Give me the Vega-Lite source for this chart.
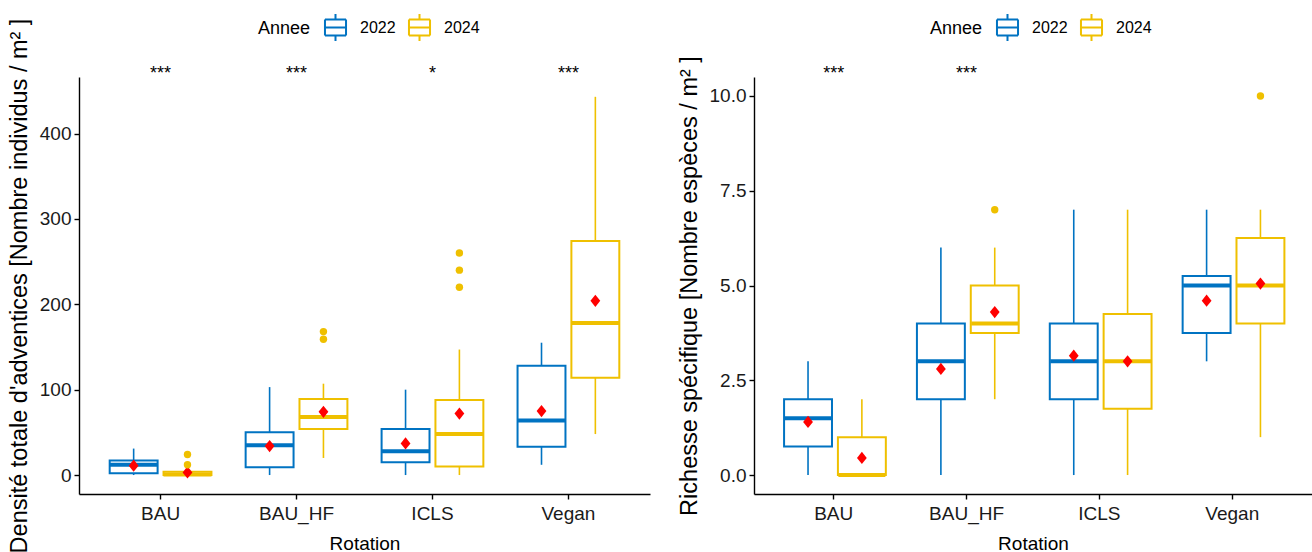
{
  "$schema": "https://vega.github.io/schema/vega-lite/v6.json",
  "padding": {"left": 7, "top": 13, "right": 0, "bottom": 0},
  "spacing": 27,
  "datasets": {
    "dens": [
      {"Rotation": "BAU", "Annee": "2022", "lower": 0, "q1": 2, "median": 12, "q3": 17, "upper": 31, "mean": 11},
      {"Rotation": "BAU", "Annee": "2024", "lower": 0, "q1": 0, "median": 0.5, "q3": 4, "upper": 9, "mean": 3},
      {"Rotation": "BAU_HF", "Annee": "2022", "lower": 0, "q1": 9, "median": 35, "q3": 50, "upper": 103, "mean": 34},
      {"Rotation": "BAU_HF", "Annee": "2024", "lower": 20, "q1": 54, "median": 68, "q3": 89, "upper": 107, "mean": 74},
      {"Rotation": "ICLS", "Annee": "2022", "lower": 0, "q1": 15, "median": 28, "q3": 54, "upper": 100, "mean": 37},
      {"Rotation": "ICLS", "Annee": "2024", "lower": 0, "q1": 10, "median": 48, "q3": 88, "upper": 147, "mean": 72},
      {"Rotation": "Vegan", "Annee": "2022", "lower": 12, "q1": 33, "median": 64, "q3": 128, "upper": 155, "mean": 75},
      {"Rotation": "Vegan", "Annee": "2024", "lower": 48, "q1": 114, "median": 178, "q3": 274, "upper": 443, "mean": 204}
    ],
    "dens_out": [
      {"Rotation": "BAU", "Annee": "2024", "value": 12},
      {"Rotation": "BAU", "Annee": "2024", "value": 24},
      {"Rotation": "BAU_HF", "Annee": "2024", "value": 159},
      {"Rotation": "BAU_HF", "Annee": "2024", "value": 168},
      {"Rotation": "ICLS", "Annee": "2024", "value": 220},
      {"Rotation": "ICLS", "Annee": "2024", "value": 240},
      {"Rotation": "ICLS", "Annee": "2024", "value": 260}
    ],
    "dens_sig": [
      {"Rotation": "BAU", "label": "***"},
      {"Rotation": "BAU_HF", "label": "***"},
      {"Rotation": "ICLS", "label": "*"},
      {"Rotation": "Vegan", "label": "***"}
    ],
    "rich": [
      {"Rotation": "BAU", "Annee": "2022", "lower": 0, "q1": 0.75, "median": 1.5, "q3": 2, "upper": 3, "mean": 1.4},
      {"Rotation": "BAU", "Annee": "2024", "lower": 0, "q1": 0, "median": 0, "q3": 1, "upper": 2, "mean": 0.45},
      {"Rotation": "BAU_HF", "Annee": "2022", "lower": 0, "q1": 2, "median": 3, "q3": 4, "upper": 6, "mean": 2.8},
      {"Rotation": "BAU_HF", "Annee": "2024", "lower": 2, "q1": 3.75, "median": 4, "q3": 5, "upper": 6, "mean": 4.3},
      {"Rotation": "ICLS", "Annee": "2022", "lower": 0, "q1": 2, "median": 3, "q3": 4, "upper": 7, "mean": 3.15},
      {"Rotation": "ICLS", "Annee": "2024", "lower": 0, "q1": 1.75, "median": 3, "q3": 4.25, "upper": 7, "mean": 3.0},
      {"Rotation": "Vegan", "Annee": "2022", "lower": 3, "q1": 3.75, "median": 5, "q3": 5.25, "upper": 7, "mean": 4.6},
      {"Rotation": "Vegan", "Annee": "2024", "lower": 1, "q1": 4, "median": 5, "q3": 6.25, "upper": 7, "mean": 5.05}
    ],
    "rich_out": [
      {"Rotation": "BAU_HF", "Annee": "2024", "value": 7},
      {"Rotation": "Vegan", "Annee": "2024", "value": 10}
    ],
    "rich_sig": [
      {"Rotation": "BAU", "label": "***"},
      {"Rotation": "BAU_HF", "label": "***"}
    ]
  },
  "hconcat": [
    {
      "width": 571,
      "height": 417,
      "encoding": {
        "x": {"field": "Rotation", "type": "nominal", "title": "Rotation",
              "scale": {"domain": ["BAU", "BAU_HF", "ICLS", "Vegan"], "paddingInner": 0.2, "paddingOuter": 0.2},
              "axis": {"labelAngle": 0, "titlePadding": 11, "labelPadding": 5}}
      },
      "layer": [
        {
          "data": {"name": "dens"},
          "encoding": {
            "xOffset": {"field": "Annee", "type": "nominal", "scale": {"domain": ["2022", "2024"], "paddingInner": 0.11, "paddingOuter": 0.065}}
          },
          "layer": [
            {
              "mark": {"type": "bar", "filled": false, "strokeWidth": 2},
              "encoding": {
                "y": {"field": "q1", "type": "quantitative",
                      "scale": {"domain": [-22.2, 466.2], "nice": false, "zero": false},
                      "axis": {"values": [0, 100, 200, 300, 400], "titlePadding": 8, "titleFontSize": 23.5},
                      "title": "Densité totale d'adventices [Nombre individus / m² ]"},
                "y2": {"field": "q3"},
                "color": {"field": "Annee", "type": "nominal", "scale": {"domain": ["2022", "2024"], "range": ["#0073C2", "#EFC000"]},
                          "legend": {"orient": "none", "legendX": 179, "legendY": -64, "direction": "horizontal", "title": "Annee", "titleOrient": "left"}}
              }
            },
            {
              "mark": {"type": "rule", "strokeWidth": 1.6},
              "encoding": {
                "y": {"field": "lower", "type": "quantitative"},
                "y2": {"field": "q1"},
                "color": {"field": "Annee", "type": "nominal", "legend": null}
              }
            },
            {
              "mark": {"type": "rule", "strokeWidth": 1.6},
              "encoding": {
                "y": {"field": "q3", "type": "quantitative"},
                "y2": {"field": "upper"},
                "color": {"field": "Annee", "type": "nominal", "legend": null}
              }
            },
            {
              "mark": {"type": "tick", "orient": "horizontal", "thickness": 4, "size": 48, "opacity": 1},
              "encoding": {
                "y": {"field": "median", "type": "quantitative"},
                "color": {"field": "Annee", "type": "nominal", "legend": null}
              }
            },
            {
              "mark": {"type": "point", "shape": "M0,-1L0.8,0L0,1L-0.8,0Z", "filled": true, "color": "#FF0000", "size": 150, "opacity": 1},
              "encoding": {
                "y": {"field": "mean", "type": "quantitative"}
              }
            }
          ]
        },
        {
          "data": {"name": "dens_out"},
          "mark": {"type": "point", "filled": true, "shape": "circle", "size": 55, "opacity": 1},
          "encoding": {
            "xOffset": {"field": "Annee", "type": "nominal"},
            "y": {"field": "value", "type": "quantitative"},
            "color": {"field": "Annee", "type": "nominal", "legend": null}
          }
        },
        {
          "data": {"name": "dens_sig"},
          "mark": {"type": "text", "fontSize": 18, "color": "black", "baseline": "middle"},
          "encoding": {
            "y": {"datum": 470},
            "text": {"field": "label"}
          }
        }
      ]
    },
    {
      "width": 558,
      "height": 417,
      "encoding": {
        "x": {"field": "Rotation", "type": "nominal", "title": "Rotation",
              "scale": {"domain": ["BAU", "BAU_HF", "ICLS", "Vegan"], "paddingInner": 0.2, "paddingOuter": 0.2},
              "axis": {"labelAngle": 0, "titlePadding": 11, "labelPadding": 5}}
      },
      "layer": [
        {
          "data": {"name": "rich"},
          "encoding": {
            "xOffset": {"field": "Annee", "type": "nominal", "scale": {"domain": ["2022", "2024"], "paddingInner": 0.11, "paddingOuter": 0.065}}
          },
          "layer": [
            {
              "mark": {"type": "bar", "filled": false, "strokeWidth": 2},
              "encoding": {
                "y": {"field": "q1", "type": "quantitative",
                      "scale": {"domain": [-0.5, 10.5], "nice": false, "zero": false},
                      "axis": {"values": [0, 2.5, 5, 7.5, 10], "format": ".1f", "titlePadding": 8, "titleFontSize": 23.5},
                      "title": "Richesse spécifique [Nombre espèces / m² ]"},
                "y2": {"field": "q3"},
                "color": {"field": "Annee", "type": "nominal", "scale": {"domain": ["2022", "2024"], "range": ["#0073C2", "#EFC000"]},
                          "legend": {"orient": "none", "legendX": 176, "legendY": -64, "direction": "horizontal", "title": "Annee", "titleOrient": "left"}}
              }
            },
            {
              "mark": {"type": "rule", "strokeWidth": 1.6},
              "encoding": {
                "y": {"field": "lower", "type": "quantitative"},
                "y2": {"field": "q1"},
                "color": {"field": "Annee", "type": "nominal", "legend": null}
              }
            },
            {
              "mark": {"type": "rule", "strokeWidth": 1.6},
              "encoding": {
                "y": {"field": "q3", "type": "quantitative"},
                "y2": {"field": "upper"},
                "color": {"field": "Annee", "type": "nominal", "legend": null}
              }
            },
            {
              "mark": {"type": "tick", "orient": "horizontal", "thickness": 4, "size": 47, "opacity": 1},
              "encoding": {
                "y": {"field": "median", "type": "quantitative"},
                "color": {"field": "Annee", "type": "nominal", "legend": null}
              }
            },
            {
              "mark": {"type": "point", "shape": "M0,-1L0.8,0L0,1L-0.8,0Z", "filled": true, "color": "#FF0000", "size": 150, "opacity": 1},
              "encoding": {
                "y": {"field": "mean", "type": "quantitative"}
              }
            }
          ]
        },
        {
          "data": {"name": "rich_out"},
          "mark": {"type": "point", "filled": true, "shape": "circle", "size": 55, "opacity": 1},
          "encoding": {
            "xOffset": {"field": "Annee", "type": "nominal"},
            "y": {"field": "value", "type": "quantitative"},
            "color": {"field": "Annee", "type": "nominal", "legend": null}
          }
        },
        {
          "data": {"name": "rich_sig"},
          "mark": {"type": "text", "fontSize": 18, "color": "black", "baseline": "middle"},
          "encoding": {
            "y": {"datum": 10.59},
            "text": {"field": "label"}
          }
        }
      ]
    }
  ],
  "resolve": {"scale": {"color": "independent"}},
  "config": {
    "font": "Liberation Sans",
    "view": {"stroke": null},
    "axis": {
      "grid": false,
      "domainColor": "black",
      "domainWidth": 1.4,
      "tickColor": "black",
      "tickWidth": 1.4,
      "tickSize": 5,
      "labelColor": "#1a1a1a",
      "labelFontSize": 19,
      "labelPadding": 3,
      "titleFontSize": 19,
      "titleFontWeight": "normal",
      "titleColor": "black"
    },
    "legend": {
      "symbolType": "M-0.78,-0.6H0.78 M0.78,-0.6V0.6 M0.78,0.6H-0.78 M-0.78,0.6V-0.6 M-0.78,0H0.78 M0,-0.6V-1 M0,0.6V1",
      "symbolSize": 729,
      "symbolStrokeWidth": 2,
      "labelFontSize": 16,
      "labelColor": "black",
      "labelOffset": 10,
      "columnPadding": 8,
      "titleFontSize": 18,
      "titleFontWeight": "normal",
      "titleColor": "black",
      "titlePadding": 10
    }
  }
}
